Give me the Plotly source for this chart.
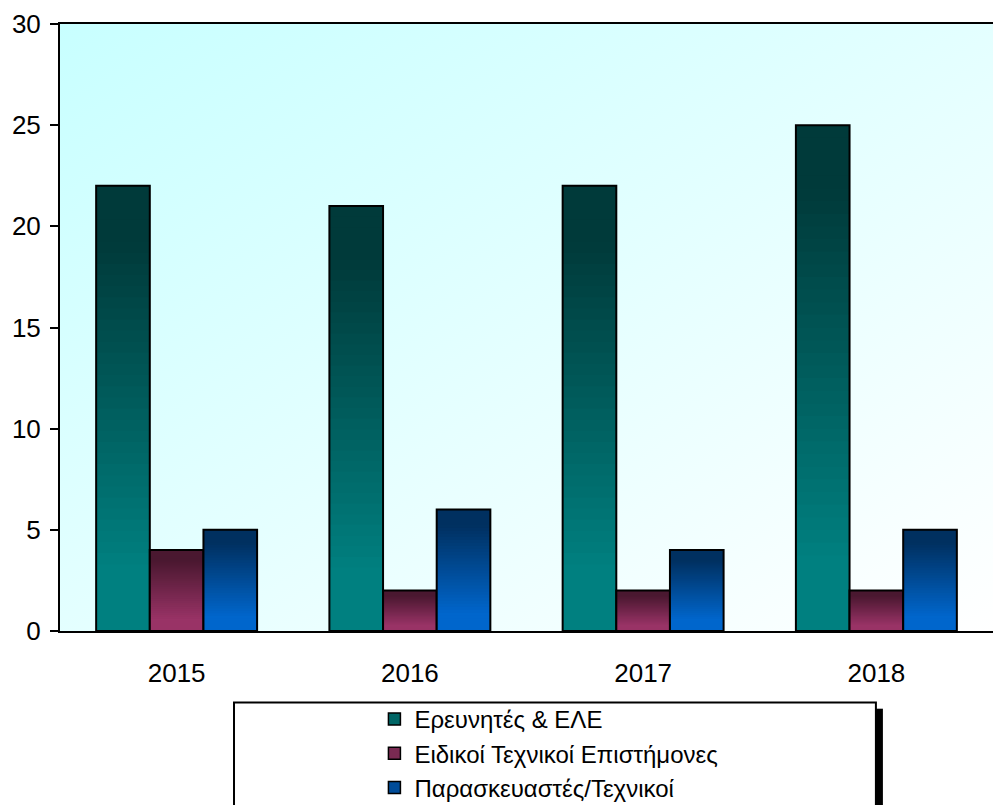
import base64
import plotly.graph_objects as go

# ---- data ----
years = ["2015", "2016", "2017", "2018"]
series_names = ["Ερευνητές & ΕΛΕ", "Ειδικοί Τεχνικοί Επιστήμονες", "Παρασκευαστές/Τεχνικοί"]
researchers = [22, 21, 22, 25]
specialists = [4, 2, 2, 2]
technicians = [5, 6, 4, 5]

# ---- styles ----
top_colors = [(0x00, 0x3a, 0x3a), (0x4a, 0x18, 0x30), (0x00, 0x30, 0x60)]
bottom_colors = [(0x00, 0x80, 0x80), (0x99, 0x33, 0x66), (0x00, 0x66, 0xcc)]
mid_colors = ["#006666", "#7a2a52", "#004c99"]
K = 40  # gradient layers


def lerp(c1, c2, t):
    return "rgb(%d,%d,%d)" % tuple(round(a + (b - a) * t) for a, b in zip(c1, c2))


fig = go.Figure()
all_values = [researchers, specialists, technicians]
for si, (name, vals) in enumerate(zip(series_names, all_values)):
    grp = "s%d" % si
    for k in range(K):
        frac = (K - k) / K
        t = k / (K - 1)
        tt = min(1.0, max(0.0, (t - 0.12) / 0.75))
        fig.add_trace(go.Bar(
            x=years, y=[v * frac for v in vals], offsetgroup=grp,
            marker=dict(color=lerp(top_colors[si], bottom_colors[si], tt), line=dict(width=0)),
            showlegend=False, hoverinfo="skip", legendgroup=grp,
        ))
    fig.add_trace(go.Bar(
        x=years, y=vals, offsetgroup=grp,
        marker=dict(color="rgba(0,0,0,0)", line=dict(color="black", width=2)),
        showlegend=False, hoverinfo="skip", legendgroup=grp,
    ))
    fig.add_trace(go.Bar(
        x=years, y=[None] * len(years), offsetgroup=grp, name=name,
        marker=dict(color=mid_colors[si], line=dict(color="black", width=1.5)),
        showlegend=True, legendgroup=grp, legendrank=si + 1,
    ))

svg = ('<svg xmlns="http://www.w3.org/2000/svg" width="100" height="100" viewBox="0 0 100 100" '
       'preserveAspectRatio="none"><defs><linearGradient id="g" x1="0" y1="0" x2="1" y2="1">'
       '<stop offset="0" stop-color="#c8ffff"/><stop offset="1" stop-color="#ffffff"/>'
       '</linearGradient></defs><rect width="100" height="100" fill="url(#g)"/></svg>')
src = "data:image/svg+xml;base64," + base64.b64encode(svg.encode()).decode()

fig.update_layout(
    width=993, height=805,
    margin=dict(l=60, r=0, t=24, b=174),
    paper_bgcolor="white", plot_bgcolor="rgba(0,0,0,0)",
    barmode="group", bargap=0.31, bargroupgap=0,
    font=dict(family="Liberation Sans, Arial, sans-serif", color="black"),
    images=[dict(source=src, xref="paper", yref="paper", x=0, y=1, sizex=1, sizey=1,
                 xanchor="left", yanchor="top", sizing="stretch", layer="below")],
    xaxis=dict(showline=True, linecolor="black", linewidth=2, mirror=True, ticks="",
               showgrid=False, tickfont=dict(size=26), ticklabelstandoff=18, fixedrange=True),
    yaxis=dict(range=[0, 30], dtick=5, showline=True, linecolor="black", linewidth=2,
               ticks="outside", ticklen=8, tickwidth=2, tickcolor="black", showgrid=False,
               zeroline=False, tickfont=dict(size=26), ticklabelstandoff=4, fixedrange=True),
    legend=dict(x=0.337, y=1 - 697 / 805, xref="paper", yref="container",
                xanchor="left", yanchor="top", bgcolor="rgba(0,0,0,0)",
                borderwidth=0, font=dict(size=24), tracegroupgap=0, traceorder="normal"),
    shapes=[
        dict(type="rect", xref="paper", yref="paper", x0=0.8745, x1=0.882, y0=-0.128, y1=-0.32,
             fillcolor="black", line=dict(width=0), layer="above"),
        dict(type="rect", xref="paper", yref="paper", x0=0.1865, x1=0.8745, y0=-0.1178, y1=-0.32,
             fillcolor="rgba(0,0,0,0)", line=dict(color="black", width=2), layer="above"),
    ],
    showlegend=True,
)

fig.write_html("out.html", config={"displayModeBar": False},
               post_script="document.body.style.margin='0';document.body.style.overflow='hidden';")
